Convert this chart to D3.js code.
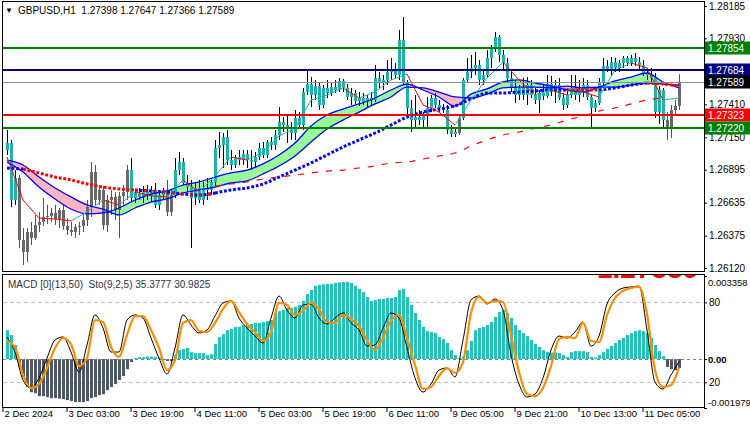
<!DOCTYPE html>
<html>
<head>
<meta charset="utf-8">
<script src="https://cdn.jsdelivr.net/npm/d3@7"></script>
<style>
  body { margin: 0; background: #fff; }
  svg text { font-family: "Liberation Sans", Arial, sans-serif; white-space: pre; }
</style>
</head>
<body>
<svg id="chart" width="750" height="430"></svg>
<script>
// ---- data ----
const titleText = "GBPUSD,H1  1.27398 1.27647 1.27366 1.27589";
const subText = "MACD [0](13,50)  Sto(9,2,5) 35.3777 30.9825";
const bigPrice = "1.27589";

// hourly candles [open, high, low, close]
const bars = [
[1.27050,1.27208,1.27011,1.27105],[1.27105,1.27129,1.26601,1.26656],[1.26656,1.26892,1.26617,1.26829],[1.26829,1.26853,1.26278,1.26341],
[1.26341,1.26435,1.26144,1.26246],[1.26246,1.26435,1.26167,1.26404],[1.26404,1.26483,1.26301,1.26357],[1.26357,1.26538,1.26341,1.26459],
[1.26459,1.26561,1.26404,1.26483],[1.26483,1.26672,1.26451,1.26522],[1.26522,1.26617,1.26467,1.26530],[1.26530,1.26593,1.26483,1.26554],
[1.26554,1.26617,1.26459,1.26506],[1.26506,1.26593,1.26435,1.26577],[1.26577,1.26617,1.26420,1.26451],[1.26451,1.26514,1.26380,1.26420],
[1.26420,1.26483,1.26372,1.26404],[1.26404,1.26467,1.26357,1.26443],[1.26443,1.26483,1.26380,1.26451],[1.26451,1.26538,1.26404,1.26498],
[1.26498,1.26656,1.26451,1.26601],[1.26601,1.26955,1.26522,1.26877],[1.26877,1.26932,1.26617,1.26656],[1.26656,1.26774,1.26617,1.26735],
[1.26735,1.26766,1.26420,1.26459],[1.26459,1.26695,1.26404,1.26656],[1.26656,1.26735,1.26538,1.26680],[1.26680,1.26719,1.26498,1.26577],
[1.26577,1.26719,1.26357,1.26688],[1.26688,1.26774,1.26617,1.26719],[1.26719,1.26932,1.26656,1.26892],[1.26892,1.26987,1.26640,1.26672],
[1.26672,1.26735,1.26632,1.26711],[1.26711,1.26751,1.26656,1.26680],[1.26680,1.26766,1.26632,1.26719],[1.26719,1.26774,1.26656,1.26688],
[1.26688,1.26766,1.26640,1.26735],[1.26735,1.26790,1.26593,1.26617],[1.26617,1.26735,1.26577,1.26695],[1.26695,1.26751,1.26656,1.26719],
[1.26719,1.26814,1.26530,1.26561],[1.26561,1.26735,1.26530,1.26695],[1.26695,1.26987,1.26672,1.26892],[1.26892,1.27034,1.26853,1.26955],
[1.26955,1.26987,1.26774,1.26790],[1.26790,1.26853,1.26719,1.26758],[1.26758,1.26814,1.26278,1.26672],[1.26672,1.26798,1.26617,1.26751],
[1.26751,1.26814,1.26632,1.26656],[1.26656,1.26798,1.26617,1.26751],[1.26751,1.26829,1.26656,1.26735],[1.26735,1.26829,1.26695,1.26798],
[1.26798,1.27129,1.26766,1.27066],[1.27066,1.27192,1.26987,1.27089],[1.27089,1.27184,1.26908,1.27152],[1.27152,1.27208,1.26932,1.26971],
[1.26971,1.27050,1.26892,1.26932],[1.26932,1.27011,1.26908,1.26995],[1.26995,1.27050,1.26932,1.26971],[1.26971,1.27050,1.26932,1.27018],
[1.27018,1.27050,1.26908,1.26971],[1.26971,1.27050,1.26892,1.26955],[1.26955,1.27034,1.26916,1.26995],[1.26995,1.27105,1.26971,1.27066],
[1.27066,1.27113,1.26987,1.27011],[1.27011,1.27129,1.26987,1.27113],[1.27113,1.27152,1.27050,1.27089],[1.27089,1.27208,1.27050,1.27168],
[1.27168,1.27389,1.27129,1.27271],[1.27271,1.27310,1.27192,1.27247],[1.27247,1.27318,1.27105,1.27223],[1.27223,1.27271,1.27129,1.27184],
[1.27184,1.27365,1.27129,1.27302],[1.27302,1.27349,1.27223,1.27247],[1.27247,1.27539,1.27208,1.27507],[1.27507,1.27680,1.27483,1.27570],
[1.27570,1.27625,1.27389,1.27483],[1.27483,1.27602,1.27444,1.27554],[1.27554,1.27586,1.27365,1.27405],[1.27405,1.27562,1.27381,1.27539],
[1.27539,1.27602,1.27460,1.27499],[1.27499,1.27586,1.27476,1.27546],[1.27546,1.27602,1.27499,1.27523],[1.27523,1.27617,1.27507,1.27594],
[1.27594,1.27610,1.27507,1.27539],[1.27539,1.27570,1.27444,1.27468],[1.27468,1.27539,1.27405,1.27499],[1.27499,1.27523,1.27413,1.27436],
[1.27436,1.27507,1.27397,1.27460],[1.27460,1.27499,1.27405,1.27428],[1.27428,1.27483,1.27389,1.27460],[1.27460,1.27507,1.27405,1.27444],
[1.27444,1.27720,1.27428,1.27617],[1.27617,1.27665,1.27539,1.27578],[1.27578,1.27641,1.27523,1.27602],[1.27602,1.27759,1.27562,1.27665],
[1.27665,1.27775,1.27602,1.27680],[1.27680,1.27736,1.27617,1.27641],[1.27641,1.27996,1.27602,1.27917],[1.27917,1.28098,1.27562,1.27586],
[1.27586,1.27602,1.27326,1.27381],[1.27381,1.27444,1.27192,1.27286],[1.27286,1.27483,1.27231,1.27310],[1.27310,1.27365,1.27247,1.27286],
[1.27286,1.27349,1.27231,1.27318],[1.27318,1.27468,1.27231,1.27381],[1.27381,1.27483,1.27349,1.27460],[1.27460,1.27499,1.27381,1.27405],
[1.27405,1.27444,1.27342,1.27381],[1.27381,1.27413,1.27342,1.27365],[1.27365,1.27405,1.27176,1.27208],[1.27208,1.27247,1.27152,1.27176],
[1.27176,1.27231,1.27152,1.27192],[1.27184,1.27326,1.27168,1.27302],[1.27302,1.27617,1.27286,1.27602],[1.27602,1.27775,1.27586,1.27665],
[1.27665,1.27799,1.27617,1.27696],[1.27696,1.27822,1.27641,1.27720],[1.27720,1.27759,1.27562,1.27602],[1.27602,1.27680,1.27562,1.27641],
[1.27641,1.27838,1.27617,1.27775],[1.27775,1.27877,1.27696,1.27854],[1.27854,1.27980,1.27822,1.27940],[1.27940,1.27956,1.27743,1.27799],
[1.27799,1.27838,1.27680,1.27736],[1.27736,1.27775,1.27586,1.27617],[1.27617,1.27680,1.27507,1.27539],[1.27539,1.27602,1.27420,1.27483],
[1.27483,1.27562,1.27444,1.27539],[1.27539,1.27617,1.27444,1.27483],[1.27483,1.27625,1.27405,1.27562],[1.27562,1.27602,1.27460,1.27483],
[1.27483,1.27539,1.27413,1.27444],[1.27444,1.27523,1.27342,1.27499],[1.27499,1.27562,1.27444,1.27476],[1.27476,1.27641,1.27460,1.27570],
[1.27570,1.27633,1.27476,1.27507],[1.27507,1.27602,1.27420,1.27562],[1.27562,1.27617,1.27444,1.27460],[1.27460,1.27499,1.27365,1.27405],
[1.27405,1.27539,1.27381,1.27483],[1.27483,1.27641,1.27460,1.27539],[1.27539,1.27641,1.27444,1.27483],[1.27483,1.27602,1.27428,1.27523],
[1.27523,1.27617,1.27468,1.27562],[1.27562,1.27602,1.27444,1.27468],[1.27468,1.27483,1.27223,1.27381],[1.27381,1.27444,1.27349,1.27420],
[1.27420,1.27617,1.27405,1.27586],[1.27586,1.27775,1.27562,1.27712],[1.27712,1.27759,1.27665,1.27680],[1.27680,1.27783,1.27641,1.27743],
[1.27743,1.27775,1.27665,1.27696],[1.27696,1.27759,1.27665,1.27736],[1.27736,1.27791,1.27696,1.27775],[1.27775,1.27791,1.27712,1.27736],
[1.27736,1.27799,1.27712,1.27775],[1.27775,1.27814,1.27712,1.27743],[1.27743,1.27783,1.27680,1.27720],[1.27720,1.27759,1.27633,1.27657],
[1.27657,1.27696,1.27602,1.27641],[1.27641,1.27696,1.27586,1.27617],[1.27617,1.27657,1.27302,1.27349],[1.27349,1.27554,1.27255,1.27523],
[1.27523,1.27539,1.27231,1.27286],[1.27286,1.27349,1.27129,1.27223],[1.27223,1.27405,1.27145,1.27365],[1.27365,1.27444,1.27318,1.27397],
[1.27398,1.27647,1.27366,1.27589]
];
// bar runs painted grey (bearish trend state)
const greyRuns = [[3, 30], [40, 41], [113, 113], [165, 168]];

// indicator lines, read every 4th bar (bar 0, 4, 8 ... 168)
const ribbonFast = [1.26955,1.26877,1.26758,1.26664,1.26585,1.26546,1.26554,1.26593,1.26656,1.26703,1.26727,1.26774,1.26798,1.26837,1.26869,1.26892,1.26940,1.27011,1.27105,1.27239,1.27326,1.27373,1.27413,1.27460,1.27523,1.27570,1.27523,1.27468,1.27397,1.27491,1.27531,1.27586,1.27602,1.27578,1.27554,1.27523,1.27507,1.27546,1.27594,1.27625,1.27657,1.27586,1.27539];
const ribbonSlow = [1.26971,1.26932,1.26837,1.26751,1.26680,1.26617,1.26585,1.26538,1.26593,1.26640,1.26664,1.26711,1.26735,1.26758,1.26790,1.26806,1.26861,1.26924,1.27003,1.27113,1.27215,1.27286,1.27349,1.27413,1.27468,1.27546,1.27539,1.27507,1.27468,1.27460,1.27491,1.27539,1.27546,1.27546,1.27539,1.27554,1.27539,1.27546,1.27546,1.27562,1.27578,1.27570,1.27562];
const fastLine = [1.26995,1.26656,1.26514,1.26506,1.26491,1.26561,1.26656,1.26617,1.26719,1.26688,1.26680,1.26814,1.26719,1.26845,1.26995,1.26971,1.27034,1.27160,1.27223,1.27444,1.27483,1.27539,1.27460,1.27507,1.27602,1.27649,1.27405,1.27349,1.27247,1.27444,1.27617,1.27743,1.27602,1.27483,1.27523,1.27483,1.27507,1.27468,1.27680,1.27736,1.27696,1.27444,1.27460];
const dotMA = [1.26908,1.26900,1.26869,1.26837,1.26814,1.26782,1.26758,1.26743,1.26735,1.26727,1.26719,1.26703,1.26695,1.26711,1.26735,1.26751,1.26782,1.26837,1.26892,1.26948,1.27011,1.27074,1.27129,1.27184,1.27247,1.27310,1.27349,1.27373,1.27397,1.27452,1.27499,1.27499,1.27507,1.27515,1.27523,1.27523,1.27523,1.27523,1.27539,1.27562,1.27578,1.27570,1.27554];
// colour of the dotted average: b = rising, r = falling, m = flat (alternating)
const dotSegments = [[0, 4, "b"], [4, 32, "r"], [32, 52, "m"], [52, 140, "b"], [140, 148, "r"], [148, 160, "b"], [160, 168, "r"]];
// long average, every 4th bar from bar 52 to 164
const slowMA = [1.26766,1.26782,1.26798,1.26821,1.26837,1.26853,1.26869,1.26884,1.26892,1.26908,1.26924,1.26948,1.26955,1.26979,1.27003,1.27026,1.27082,1.27129,1.27168,1.27192,1.27223,1.27247,1.27286,1.27318,1.27357,1.27381,1.27413,1.27444,1.27460];

// horizontal levels
const levels = [
  { v: 1.27854, color: "#008000", w: 2 },
  { v: 1.27684, color: "#000080", w: 2 },
  { v: 1.27589, color: "#909090", w: 1, box: "#000000" },
  { v: 1.27323, color: "#ff0000", w: 2 },
  { v: 1.27220, color: "#008000", w: 2 }
];
const priceTicks = [1.28185, 1.27930, 1.27410, 1.27150, 1.26895, 1.26635, 1.26375, 1.26120];

// MACD histogram, one value per bar
const macd = [0.00117,0.00097,0.00057,-0.00032,-0.00073,-0.00113,-0.00134,-0.00138,-0.00150,-0.00150,-0.00154,-0.00158,-0.00158,-0.00160,-0.00162,-0.00166,-0.00170,-0.00174,-0.00174,-0.00174,
-0.00170,-0.00158,-0.00154,-0.00146,-0.00142,-0.00126,-0.00113,-0.00101,-0.00085,-0.00069,-0.00041,-0.00012,0.00004,0.00008,0.00008,0.00010,0.00010,0.00008,0.00006,-0.00002,
-0.00008,-0.00008,0.00016,0.00036,0.00041,0.00045,0.00028,0.00024,0.00024,0.00024,0.00016,0.00020,0.00061,0.00089,0.00101,0.00117,0.00122,0.00130,0.00130,0.00138,
0.00138,0.00142,0.00146,0.00146,0.00150,0.00154,0.00158,0.00186,0.00194,0.00198,0.00207,0.00207,0.00211,0.00219,0.00235,0.00263,0.00279,0.00296,0.00300,0.00302,
0.00304,0.00304,0.00308,0.00310,0.00312,0.00312,0.00308,0.00296,0.00284,0.00271,0.00251,0.00235,0.00239,0.00243,0.00243,0.00247,0.00247,0.00251,0.00279,0.00284,
0.00251,0.00219,0.00186,0.00158,0.00130,0.00113,0.00109,0.00105,0.00089,0.00081,0.00065,0.00036,0.00016,0.00004,0.00012,0.00036,0.00073,0.00117,0.00126,0.00130,
0.00138,0.00150,0.00170,0.00190,0.00198,0.00186,0.00166,0.00138,0.00117,0.00105,0.00093,0.00077,0.00061,0.00049,0.00036,0.00028,0.00026,0.00026,0.00024,0.00016,
0.00008,0.00028,0.00032,0.00032,0.00032,0.00028,0.00008,0.00006,0.00016,0.00028,0.00041,0.00053,0.00065,0.00077,0.00085,0.00097,0.00105,0.00113,0.00117,0.00113,
0.00105,0.00085,0.00057,0.00032,0.00012,-0.00032,-0.00041,-0.00045,-0.00036];

// stochastic, read every 2nd bar (bar 0, 2 ... 168)
const stochMain = [54.0,42.7,21.7,15.7,23.2,38.2,51.7,54.0,42.7,27.7,48.0,70.5,60.7,42.7,42.7,66.7,70.5,68.2,53.2,38.2,26.2,45.7,70.5,63.0,57.0,59.2,69.7,79.5,81.0,68.2,60.7,54.7,49.5,68.2,84.7,74.2,68.2,78.0,78.7,68.2,63.7,68.2,72.0,64.5,59.2,47.2,48.0,60.7,72.0,68.2,45.7,23.2,12.7,18.7,29.2,30.7,24.0,51.7,81.7,84.7,78.7,82.5,74.2,40.5,18.7,9.0,11.2,23.2,44.2,54.7,53.2,57.7,65.2,47.2,54.7,78.7,87.0,90.7,91.5,92.2,59.2,20.2,15.0,25.5,35.4];
const stochSignal = [51.0,46.5,25.5,15.7,18.7,30.7,45.7,53.2,48.7,32.2,38.2,66.7,65.2,46.5,39.0,55.5,69.7,69.7,59.2,45.7,29.2,36.7,64.5,66.7,58.5,57.7,64.5,75.0,81.0,72.7,63.7,57.7,51.0,57.7,79.5,78.0,70.5,73.5,79.5,75.0,65.2,64.5,70.5,67.5,62.2,51.7,44.2,53.2,66.0,70.5,53.2,33.0,15.0,16.5,24.7,30.7,27.0,35.2,72.0,84.0,79.5,81.0,80.2,55.5,27.7,11.2,9.7,15.7,32.2,52.5,54.0,53.2,64.5,51.0,50.2,70.5,83.2,88.5,90.7,91.5,71.2,29.2,16.5,18.0,31.0];

const timeIdx = [-1, 15, 31, 47, 63, 79, 95, 111, 127, 143, 159];
const timeLabels = ["2 Dec 2024", "3 Dec 03:00", "3 Dec 19:00", "4 Dec 11:00", "5 Dec 03:00", "5 Dec 19:00",
                    "6 Dec 11:00", "9 Dec 05:00", "9 Dec 21:00", "10 Dec 13:00", "11 Dec 05:00"];

// ---- drawing ----
const svg = d3.select("#chart");
const x = d3.scaleLinear().domain([0, 168]).range([7, 679]);
const yP = d3.scaleLinear().domain([1.26120, 1.28185]).range([268, 6]);
const yM = d3.scaleLinear().domain([-0.001979, 0.003358]).range([408, 276]);
const yS = d3.scaleLinear().domain([20, 80]).range([382.3, 302.3]);

const defs = svg.append("defs");
defs.append("clipPath").attr("id", "clipMain")
  .append("rect").attr("x", 3).attr("y", 2).attr("width", 701).attr("height", 269);
defs.append("clipPath").attr("id", "clipSub")
  .append("rect").attr("x", 3).attr("y", 275).attr("width", 701).attr("height", 132);

const main = svg.append("g").attr("clip-path", "url(#clipMain)");
const sub = svg.append("g").attr("clip-path", "url(#clipSub)");

const every4 = d3.range(0, 169, 4);
const curve = d3.curveMonotoneX;

// ribbon fill
const rib = every4.map((i, k) => ({ i, f: ribbonFast[k], s: ribbonSlow[k] }));
const ribArea = d3.area().curve(curve).x(d => x(d.i)).y0(d => yP(d.f)).y1(d => yP(d.s));
defs.append("clipPath").attr("id", "ribUp").append("path")
  .attr("d", d3.area().curve(curve).x(d => x(d.i)).y0(0).y1(d => yP(d.s))(rib));
defs.append("clipPath").attr("id", "ribDn").append("path")
  .attr("d", d3.area().curve(curve).x(d => x(d.i)).y0(d => yP(d.s)).y1(300)(rib));
main.append("path").attr("d", ribArea(rib)).attr("fill", "#98fb98").attr("clip-path", "url(#ribUp)");
main.append("path").attr("d", ribArea(rib)).attr("fill", "#ffb6c1").attr("clip-path", "url(#ribDn)");

// candles
const isGrey = i => greyRuns.some(r => i >= r[0] && i <= r[1]);
const cg = main.append("g");
bars.forEach((b, i) => {
  const cx = Math.round(x(i));
  const grey = isGrey(i);
  cg.append("line")
    .attr("x1", cx + 0.5).attr("x2", cx + 0.5)
    .attr("y1", yP(b[1])).attr("y2", yP(b[2]))
    .attr("stroke", grey ? "#dc143c" : "#000").attr("stroke-width", 1);
  const top = yP(Math.max(b[0], b[3]));
  const bot = yP(Math.min(b[0], b[3]));
  cg.append("rect")
    .attr("x", cx - 1).attr("width", 3)
    .attr("y", top).attr("height", Math.max(1, bot - top))
    .attr("fill", grey ? "#696969" : "#20b2aa");
});

// ribbon borders
const lineF = d3.line().curve(curve).x(d => x(d.i)).y(d => yP(d.f));
const lineS = d3.line().curve(curve).x(d => x(d.i)).y(d => yP(d.s));
main.append("path").attr("d", lineF(rib)).attr("fill", "none").attr("stroke", "#0000ff").attr("stroke-width", 1.3);
main.append("path").attr("d", lineS(rib)).attr("fill", "none").attr("stroke", "#0000ff").attr("stroke-width", 1.3);

// long dashed average
const slowPts = slowMA.map((v, k) => ({ i: 52 + 4 * k, v }));
main.append("path")
  .attr("d", d3.line().curve(curve).x(d => x(d.i)).y(d => yP(d.v))(slowPts))
  .attr("fill", "none").attr("stroke", "#ff0000").attr("stroke-width", 1.2)
  .attr("stroke-dasharray", "6,8");

// dotted average, coloured by slope
const dotPts = every4.map((i, k) => ({ i, v: dotMA[k] }));
const dotLine = d3.line().curve(curve).x(d => x(d.i)).y(d => yP(d.v));
dotSegments.forEach(([a, b, c]) => {
  const pts = dotPts.filter(d => d.i >= a && d.i <= b);
  main.append("path").attr("d", dotLine(pts)).attr("fill", "none")
    .attr("stroke", c === "r" ? "#ff0000" : "#0000ff").attr("stroke-width", 3)
    .attr("stroke-dasharray", "2.8,1.8");
  if (c === "m") {
    main.append("path").attr("d", dotLine(pts)).attr("fill", "none")
      .attr("stroke", "#ff0000").attr("stroke-width", 3)
      .attr("stroke-dasharray", "2.8,6.4");
  }
});

// fast thin average: teal rising, red falling
for (let k = 1; k < every4.length; k++) {
  main.append("line")
    .attr("x1", x(every4[k - 1])).attr("y1", yP(fastLine[k - 1]))
    .attr("x2", x(every4[k])).attr("y2", yP(fastLine[k]))
    .attr("stroke", fastLine[k] >= fastLine[k - 1] ? "#20b2aa" : "#ff0000")
    .attr("stroke-width", 1);
}

// horizontal levels
levels.forEach(l => {
  const yy = Math.round(yP(l.v)) + (l.w === 1 ? 0.5 : 0);
  main.append("line")
    .attr("x1", 3).attr("x2", 704).attr("y1", yy).attr("y2", yy)
    .attr("stroke", l.color).attr("stroke-width", l.w);
});

// title
svg.append("text").attr("x", 5).attr("y", 13).attr("font-size", 8).text("\u25BC");
svg.append("text").attr("x", 18).attr("y", 14).attr("font-size", 10).attr("fill", "#000").text(titleText);

// right price axis
const pAxis = svg.append("g").attr("transform", "translate(704,0)")
  .call(d3.axisRight(yP).tickValues(priceTicks).tickSize(3).tickPadding(2).tickFormat(d3.format(".5f")));
pAxis.select(".domain").remove();
pAxis.selectAll("text").attr("font-size", 10).attr("fill", "#000").attr("font-family", "Liberation Sans, Arial");

levels.forEach(l => {
  const yy = Math.round(yP(l.v));
  svg.append("rect").attr("x", 705).attr("y", yy - 6.5).attr("width", 45).attr("height", 13)
    .attr("fill", l.box || l.color);
  svg.append("text").attr("x", 708).attr("y", yy + 3.8).attr("font-size", 10).attr("fill", "#fff")
    .text(d3.format(".5f")(l.v));
});

// ---- lower window ----
// big current-price caption, only its lower edge shows under the window top
sub.append("text").attr("x", 597).attr("y", 278)
  .attr("font-size", 28).attr("font-weight", "bold").attr("fill", "#ff0000")
  .text(bigPrice);

[80, 20].forEach(v => {
  sub.append("line").attr("x1", 3).attr("x2", 704).attr("y1", Math.round(yS(v)) + 0.5).attr("y2", Math.round(yS(v)) + 0.5)
    .attr("stroke", "#c0c0c0").attr("stroke-dasharray", "4,3");
});

sub.append("g").selectAll("rect").data(macd).join("rect")
  .attr("x", (d, i) => Math.round(x(i)) - 1).attr("width", 3)
  .attr("y", d => Math.min(yM(d), yM(0)))
  .attr("height", d => Math.max(1, Math.abs(yM(d) - yM(0))))
  .attr("fill", d => d >= 0 ? "#25c2b9" : "#4f5864");

sub.append("line").attr("x1", 3).attr("x2", 704).attr("y1", Math.round(yM(0)) + 0.5).attr("y2", Math.round(yM(0)) + 0.5)
  .attr("stroke", "#808080").attr("stroke-dasharray", "3,3");

const stochLine = d3.line().curve(curve).x((d, k) => x(2 * k)).y(d => yS(d));
sub.append("path").attr("d", stochLine(stochMain)).attr("fill", "none").attr("stroke", "#000").attr("stroke-width", 1);
sub.append("path").attr("d", stochLine(stochSignal)).attr("fill", "none").attr("stroke", "#ff8c00").attr("stroke-width", 2.2);

svg.append("text").attr("x", 8).attr("y", 288).attr("font-size", 10).attr("fill", "#2b3340").text(subText);

// lower axis labels
const mAxis = svg.append("g").attr("transform", "translate(704,0)")
  .call(d3.axisRight(yM).tickValues([0.003358, 0, -0.001979]).tickSize(3).tickPadding(1)
    .tickFormat(d => d === 0 ? "0.00" : d.toFixed(6)));
mAxis.select(".domain").remove();
mAxis.selectAll("text").attr("font-size", 9.5).attr("fill", "#000").attr("font-family", "Liberation Sans, Arial")
  .attr("dy", d => d > 0.003 ? "0.95em" : d < -0.0019 ? "-0.25em" : "0.32em")
  .attr("font-weight", d => d === 0 ? "bold" : "normal");
const sAxis = svg.append("g").attr("transform", "translate(704,0)")
  .call(d3.axisRight(yS).tickValues([80, 20]).tickSize(3).tickPadding(2));
sAxis.select(".domain").remove();
sAxis.selectAll("text").attr("font-size", 10).attr("fill", "#000").attr("font-family", "Liberation Sans, Arial");

// time axis
const tAxis = svg.append("g").attr("transform", "translate(0,408)")
  .call(d3.axisBottom(x).tickValues(timeIdx).tickSize(4)
    .tickFormat((d, k) => timeLabels[k]));
tAxis.select(".domain").remove();
tAxis.selectAll(".tick line").attr("transform", "translate(-0.5,0)");
tAxis.selectAll("text").attr("font-size", 9.5).attr("fill", "#000").attr("font-family", "Liberation Sans, Arial")
  .attr("text-anchor", "start").attr("dx", 1).attr("dy", "0.35em").attr("y", 6);

// frames
svg.append("rect").attr("x", 2.5).attr("y", 1.5).attr("width", 702).attr("height", 270)
  .attr("fill", "none").attr("stroke", "#000");
svg.append("rect").attr("x", 2.5).attr("y", 274.5).attr("width", 702).attr("height", 133)
  .attr("fill", "none").attr("stroke", "#000");
</script>
</body>
</html>
